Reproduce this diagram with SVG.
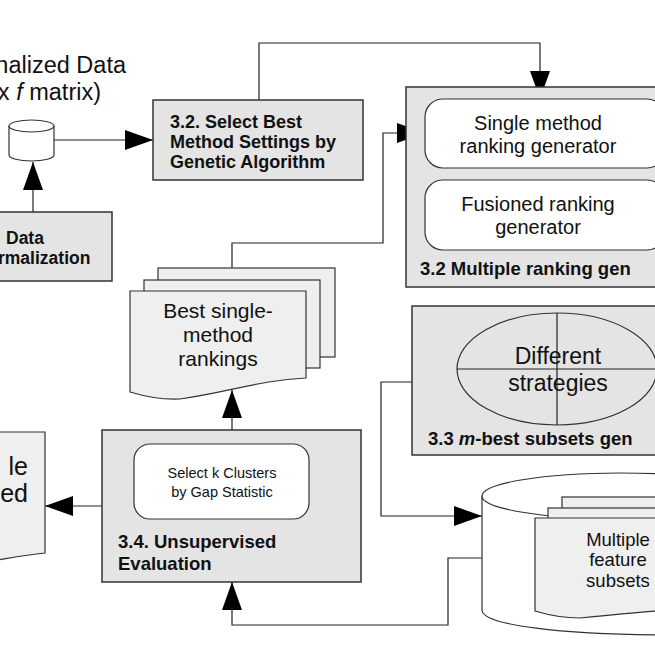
<svg xmlns="http://www.w3.org/2000/svg" width="655" height="655" viewBox="0 0 655 655">
<defs>
<style>
text{font-family:"Liberation Sans",Arial,sans-serif;fill:#111}
.box{fill:#e4e4e4;stroke:#333;stroke-width:1.5}
.w{fill:#fff;stroke:#333;stroke-width:1.2}
.doc{fill:#efefef;stroke:#333;stroke-width:1.2}
.ln{fill:none;stroke:#222;stroke-width:1.2}
.b{font-weight:bold}
</style>
<marker id="al" viewBox="0 0 14 10" refX="14" refY="5" markerWidth="28" markerHeight="20" markerUnits="userSpaceOnUse" orient="auto"><path d="M0,0L14,5L0,10z" fill="#000"/></marker>
</defs>
<g id="connectors">
<path class="ln" d="M54,140H153" marker-end="url(#al)"/>
<path class="ln" d="M33,212V162" marker-end="url(#al)"/>
<path class="ln" d="M259,100V43H540V99" marker-end="url(#al)"/>
<path class="ln" d="M232,268V243H383V133H425" marker-end="url(#al)"/>
<path class="ln" d="M232,430V390" marker-end="url(#al)"/>
<path class="ln" d="M102,506H45" marker-end="url(#al)"/>
<path class="ln" d="M535,558H448V625H232V582" marker-end="url(#al)"/>
<path class="ln" d="M412,382H381V516H482" marker-end="url(#al)"/>
</g>
<g id="title">
<text x="126" y="73" font-size="23.5" text-anchor="end">nalized Data</text>
<text x="101" y="100" font-size="23.5" text-anchor="end">x <tspan font-style="italic">f</tspan> matrix)</text>
</g>
<g id="small-cylinder">
<path class="w" d="M9,126V155A22.5,6 0 0 0 54,155V126"/>
<ellipse class="w" cx="31.5" cy="126" rx="22.5" ry="6"/>
</g>
<g id="data-normalization">
<rect class="box" x="-2" y="212" width="114" height="69"/>
<text class="b" x="6" y="244" font-size="17.5">Data</text>
<text class="b" x="-2" y="264" font-size="17.5">rmalization</text>
</g>
<g id="select-best">
<rect class="box" x="153" y="100" width="210" height="80"/>
<text class="b" font-size="18"><tspan x="170" y="128">3.2. Select Best</tspan><tspan x="170" y="148">Method Settings by</tspan><tspan x="170" y="168">Genetic Algorithm</tspan></text>
</g>
<g id="multiple-ranking">
<rect class="box" x="406" y="87" width="260" height="200"/>
<rect class="w" x="425" y="99" width="240" height="69" rx="18"/>
<text x="538" y="130" font-size="20" text-anchor="middle">Single method</text>
<text x="538" y="153" font-size="20" text-anchor="middle">ranking generator</text>
<rect class="w" x="425" y="180" width="240" height="70" rx="18"/>
<text x="538" y="211" font-size="20" text-anchor="middle">Fusioned ranking</text>
<text x="538" y="234" font-size="20" text-anchor="middle">generator</text>
<text class="b" x="420" y="275" font-size="18.5">3.2 Multiple ranking gen</text>
</g>
<g id="best-rankings">
<rect class="doc" x="158" y="268" width="177" height="89"/>
<rect class="doc" x="144" y="280" width="176" height="88"/>
<path class="doc" d="M130,291H306V378C260,380 230,392 180,399C160,400 140,395 130,392Z"/>
<text font-size="21" text-anchor="middle"><tspan x="218" y="318">Best single-</tspan><tspan x="218" y="342">method</tspan><tspan x="218" y="366">rankings</tspan></text>
</g>
<g id="m-best">
<rect class="box" x="412" y="306" width="260" height="149"/>
<ellipse cx="557" cy="369" rx="100" ry="56" fill="#e4e4e4" stroke="#333" stroke-width="1.2"/>
<path class="ln" d="M457,369H657M557,313V425"/>
<text x="558" y="364" font-size="23" text-anchor="middle">Different</text>
<text x="558" y="391" font-size="23" text-anchor="middle">strategies</text>
<text class="b" x="428" y="445" font-size="18.5">3.3 <tspan font-style="italic">m</tspan>-best subsets gen</text>
</g>
<g id="unsupervised">
<rect class="box" x="102" y="430" width="259" height="152"/>
<rect class="w" x="134" y="444" width="175" height="75" rx="16"/>
<text x="222" y="478" font-size="14.5" text-anchor="middle">Select k Clusters</text>
<text x="222" y="497" font-size="14.5" text-anchor="middle">by Gap Statistic</text>
<text class="b" x="118" y="548" font-size="18.5">3.4. Unsupervised</text>
<text class="b" x="118" y="570" font-size="18.5">Evaluation</text>
</g>
<g id="left-doc">
<path class="doc" d="M-2,432H45V553C25,555 10,558 -2,560Z"/>
<text x="28" y="475" font-size="25" text-anchor="end">le</text>
<text x="28" y="502" font-size="25" text-anchor="end">ed</text>
</g>
<g id="big-cylinder">
<path class="w" d="M482,496V610C482,625 560,635 680,635V496"/>
<ellipse class="w" cx="620" cy="496" rx="138" ry="23"/>
<rect class="doc" x="562" y="497" width="110" height="40"/>
<rect class="doc" x="548" y="508" width="110" height="40"/>
<path class="doc" d="M535,518H670V610C640,612 610,615 580,618C560,618 545,614 535,611Z"/>
<text font-size="18.5" text-anchor="middle"><tspan x="618" y="546">Multiple</tspan><tspan x="618" y="566">feature</tspan><tspan x="618" y="587">subsets</tspan></text>
</g>
</svg>
